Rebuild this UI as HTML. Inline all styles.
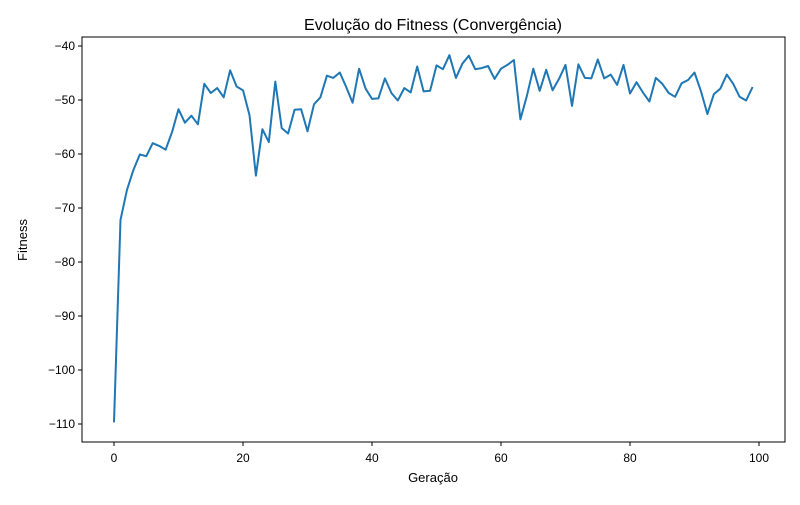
<!DOCTYPE html>
<html><head><meta charset="utf-8"><style>
body{margin:0;background:#fff;}
text{font-family:"Liberation Sans","DejaVu Sans",sans-serif;fill:#000;}
</style></head><body>
<svg id="chart" width="800" height="500">
<rect width="800" height="500" fill="#fff"/>
<text x="433" y="30" font-size="16" text-anchor="middle">Evolução do Fitness (Convergência)</text>
<text x="433" y="482" font-size="13" text-anchor="middle">Geração</text>
<text x="27" y="240" font-size="13" text-anchor="middle" transform="rotate(-90 27 240)">Fitness</text>
<g id="ticks"></g>
<path id="line" fill="none" stroke="#1f77b4" stroke-width="2" stroke-linejoin="round"/>
<rect x="82" y="37" width="703" height="405" fill="none" stroke="#000" stroke-width="1"/>
</svg>
<script>
const fitness=[-109.7,-72.2,-66.7,-63.0,-60.1,-60.4,-58.0,-58.5,-59.2,-55.9,-51.7,-54.2,-52.9,-54.5,-47.0,-48.7,-47.8,-49.5,-44.5,-47.5,-48.2,-52.8,-64.0,-55.4,-57.8,-46.6,-55.2,-56.2,-51.8,-51.7,-55.8,-50.8,-49.5,-45.5,-45.9,-44.9,-47.6,-50.5,-44.2,-47.9,-49.8,-49.7,-46.0,-48.7,-50.1,-47.8,-48.6,-43.8,-48.4,-48.3,-43.6,-44.3,-41.7,-45.9,-43.3,-41.8,-44.3,-44.1,-43.7,-46.1,-44.2,-43.5,-42.6,-53.6,-49.3,-44.2,-48.3,-44.4,-48.2,-46.1,-43.5,-51.1,-43.4,-45.9,-46.0,-42.5,-46.0,-45.3,-47.2,-43.5,-48.8,-46.7,-48.6,-50.3,-45.9,-47.0,-48.7,-49.4,-46.9,-46.3,-44.9,-48.4,-52.6,-48.9,-47.9,-45.3,-47.0,-49.4,-50.1,-47.6];
const xTicks=[0,20,40,60,80,100];
const yTicks=[-40,-50,-60,-70,-80,-90,-100,-110];
const xs=v=>114+6.45*v;
const ys=v=>46+(-40-v)*5.4;
const NS="http://www.w3.org/2000/svg";
const g=document.getElementById('ticks');
function mk(t,a){const e=document.createElementNS(NS,t);for(const k in a)e.setAttribute(k,a[k]);g.appendChild(e);return e;}
xTicks.forEach(v=>{
  const l=mk('line',{x1:xs(v),x2:xs(v),y1:442,y2:446,stroke:'#000'});
  
  
  const t=mk('text',{x:xs(v),y:462,'font-size':12,'text-anchor':'middle'});
  t.textContent=v;
  
  
});
yTicks.forEach(v=>{
  const l=mk('line',{x1:78,x2:82,y1:ys(v),y2:ys(v),stroke:'#000'});
  
  
  const t=mk('text',{x:75,y:ys(v)+4,'font-size':12,'text-anchor':'end'});
  t.textContent='\u2212'+Math.abs(v);
  
  
});
document.getElementById('line').setAttribute('d',fitness.map((v,i)=>(i?'L':'M')+xs(i).toFixed(1)+' '+ys(v).toFixed(1)).join(' '));
</script>
</body></html>
